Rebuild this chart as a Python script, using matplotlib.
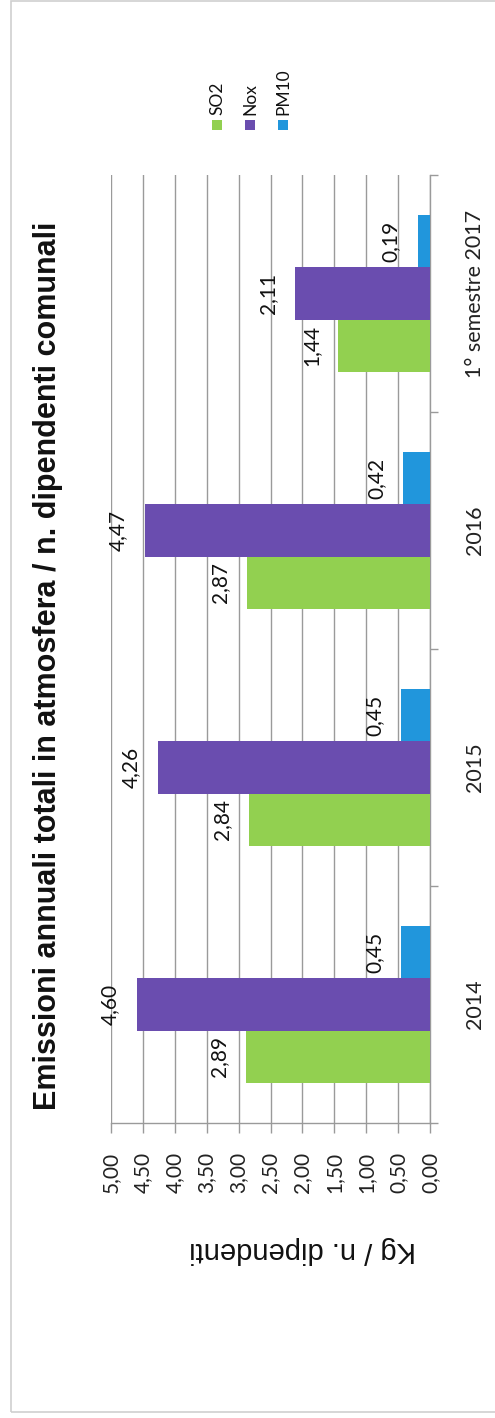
import matplotlib
matplotlib.use("Agg")
import matplotlib.pyplot as plt
import numpy as np
from matplotlib.patches import Rectangle

# ---- data ----
categories = ["2014", "2015", "2016", "1° semestre 2017"]
so2 = [2.89, 2.84, 2.87, 1.44]
nox = [4.60, 4.26, 4.47, 2.11]
pm10 = [0.45, 0.45, 0.42, 0.19]
series_names = ["SO2", "Nox", "PM10"]
value_ticks = [0.0, 0.5, 1.0, 1.5, 2.0, 2.5, 3.0, 3.5, 4.0, 4.5, 5.0]
title = "Emissioni annuali totali in atmosfera / n. dipendenti comunali"
ylabel = "Kg / n. dipendenti"

colors = ["#92D050", "#6A4DAF", "#2196DC"]

W, H = 495, 1418
fig = plt.figure(figsize=(W / 100, H / 100), dpi=100)
fig.patch.set_facecolor("white")

def fx(px):
    return px / W

def fy(py):
    return 1 - py / H

# outer frame
fig.patches.append(Rectangle((fx(11), fy(1412)), fx(600), fy(1) - fy(1412),
                             transform=fig.transFigure, fill=False,
                             edgecolor="#cfcfcf", linewidth=1.2))

ax_l, ax_r, ax_t, ax_b = 111, 430, 175, 1123
ax = fig.add_axes([fx(ax_l), fy(ax_b), fx(ax_r - ax_l), fy(ax_t) - fy(ax_b)])

y = np.arange(len(categories))
bw = 0.22
series = [so2, nox, pm10]
offsets = [-bw, 0.0, bw]
for vals, off, c in zip(series, offsets, colors):
    bars = ax.barh(y + off, vals, height=bw, color=c, edgecolor="none", zorder=3)
    for v, yy in zip(vals, y + off):
        ax.annotate(f"{v:.2f}".replace(".", ","), xy=(v, yy), xytext=(-17, 0),
                    textcoords="offset pixels", rotation=90, ha="right",
                    va="center", fontsize=15, family="Lato", color="#111111",
                    zorder=4)

ax.set_xlim(5, 0)
ax.set_ylim(-0.5, len(categories) - 0.5)

# value axis (bottom)
ax.set_xticks(value_ticks)
ax.set_xticklabels([f"{v:.2f}".replace(".", ",") for v in value_ticks],
                   rotation=90, fontsize=15, family="Lato", color="#222222")
ax.tick_params(axis="x", direction="out", length=7, width=1, color="#9a9a9a",
               pad=14)
ax.grid(axis="x", color="#9a9a9a", linewidth=1, zorder=0)
ax.set_axisbelow(True)

# category axis (right)
ax.yaxis.tick_right()
ax.set_yticks(y)
ax.set_yticklabels(categories, rotation=90, fontsize=15.5, family="Lato",
                   color="#222222", va="center")
ax.tick_params(axis="y", which="major", length=0, pad=25)
ax.set_yticks(np.arange(-0.5, len(categories), 1.0), minor=True)
ax.tick_params(axis="y", which="minor", direction="out", length=6, width=1,
               color="#9a9a9a")

for s in ["left", "top"]:
    ax.spines[s].set_visible(False)
for s in ["right", "bottom"]:
    ax.spines[s].set_color("#9a9a9a")
    ax.spines[s].set_linewidth(1)

# axis label (upside down because the whole chart is rotated)
ax.set_xlabel(ylabel, rotation=180, fontsize=21, family="Liberation Sans",
              color="#111111", va="center", ha="center")
ax.xaxis.set_label_coords((303 - ax_l) / (ax_r - ax_l), (ax_b - 1250) / (ax_b - ax_t))

# title
fig.text(fx(48), fy(666), title, rotation=90, ha="center", va="center",
         fontsize=22, fontweight="bold", family="Liberation Sans",
         color="#111111")

# legend (manual, rotated)
leg_x = [217, 250, 283]
for name, c, lx in zip(series_names, colors, leg_x):
    fig.patches.append(Rectangle((fx(lx - 5), fy(130)), fx(10), fy(120) - fy(130),
                                 transform=fig.transFigure, facecolor=c,
                                 edgecolor="none"))
    fig.text(fx(lx), fy(115), name, rotation=90, ha="center", va="bottom",
             fontsize=12.5, family="Lato", color="#111111")

fig.savefig("out.png", dpi=100)
